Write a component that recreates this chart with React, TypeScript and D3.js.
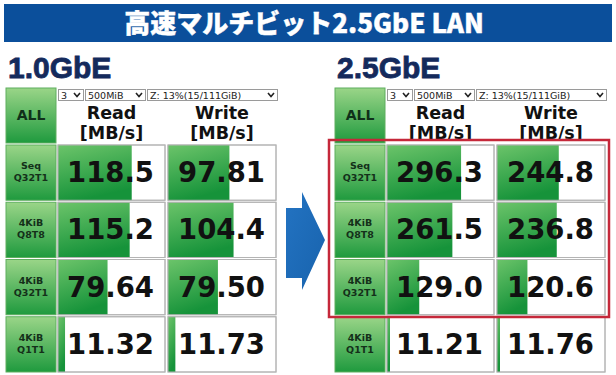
import React from "react";
import * as d3 from "d3";

const tests = ["Seq|Q32T1", "4KiB|Q8T8", "4KiB|Q32T1", "4KiB|Q1T1"];
const read10 = [118.5, 115.2, 79.64, 11.32];
const write10 = [97.81, 104.4, 79.5, 11.73];
const read25 = [296.3, 261.5, 129.0, 11.21];
const write25 = [244.8, 236.8, 120.6, 11.76];
const panelTitles = ["1.0GbE", "2.5GbE"];
const headerLabels = ["Read", "Write"];
const dropdowns = ["3", "500MiB", "Z: 13%(15/111GiB)"];
const meterMax = [172, 428];
const title = "高速マルチビット2.5GbE LAN";

const W = 616;
const H = 375;
const fmt = d3.format(".4r");
const NUM_FONT = "'DejaVu Sans', sans-serif";

export default function App() {
  const panels = [
    { x0: 6, read: read10, write: write10, title: panelTitles[0], max: meterMax[0] },
    { x0: 335, read: read25, write: write25, title: panelTitles[1], max: meterMax[1] },
  ];
  const y = d3.scaleBand<string>().domain(tests).range([145, 372]).paddingInner(0.035);
  const cols = [
    { x: 52, w: 107 },
    { x: 162, w: 108 },
  ];
  const ddBoxes = [
    { x: 52, w: 25 },
    { x: 79, w: 60 },
    { x: 141, w: 130 },
  ];

  return (
    <svg width={W} height={H} style={{ position: "absolute", left: 0, top: 0, background: "#fff" }}>
      <defs>
        <linearGradient id="lab" x1="0" y1="0" x2="0" y2="1">
          <stop offset="0" stopColor="#9ad588" />
          <stop offset="1" stopColor="#1f9a3e" />
        </linearGradient>
        <linearGradient id="bar" x1="0" y1="0" x2="0.3" y2="1">
          <stop offset="0" stopColor="#6cc46a" />
          <stop offset="1" stopColor="#16933a" />
        </linearGradient>
        <linearGradient id="arrow" x1="0" y1="0" x2="1" y2="1">
          <stop offset="0" stopColor="#2373c2" />
          <stop offset="1" stopColor="#1863ad" />
        </linearGradient>
      </defs>
      <rect x={0} y={0} width={W} height={H} fill="#fff" />
      {/* title bar */}
      <rect x={4} y={4} width={608} height={38} fill="#0b4f9b" />
      <text
        x={304}
        y={33}
        textAnchor="middle"
        fill="#fff"
        stroke="#fff"
        strokeWidth={0.4}
        fontSize={26}
        fontWeight={900}
        fontFamily="'Noto Sans CJK JP', sans-serif"
      >
        {title}
      </text>

      {panels.map((p, pi) => {
        const xs = d3.scaleLinear().domain([0, p.max]).range([0, 1]).clamp(true);
        return (
          <g key={pi} transform={`translate(${p.x0},0)`}>
            <text
              x={2}
              y={78}
              fill="#142a5c"
              stroke="#142a5c"
              strokeWidth={0.8}
              fontSize={30}
              fontWeight="bold"
              fontFamily="'Liberation Sans', Arial, sans-serif"
            >
              {p.title}
            </text>
            {/* ALL button */}
            <rect x={0} y={88} width={50} height={55} fill="url(#lab)" stroke="#5fae5f" strokeWidth={1} />
            <text x={25} y={120} textAnchor="middle" fontSize={14} fontWeight="bold" fill="#10301a" fontFamily={NUM_FONT}>
              ALL
            </text>
            {/* dropdowns */}
            {ddBoxes.map((b, i) => (
              <g key={i}>
                <rect x={b.x + 0.5} y={89.5} width={b.w} height={11} fill="#fff" stroke="#9a9a9a" strokeWidth={1} />
                <text x={b.x + 3} y={99} fontSize={9.5} fill="#222" fontFamily="'DejaVu Sans', sans-serif">
                  {dropdowns[i]}
                </text>
                <path
                  d={`M${b.x + b.w - 9},${93} l3,3.5 l3,-3.5`}
                  fill="none"
                  stroke="#222"
                  strokeWidth={1.6}
                />
              </g>
            ))}
            {/* headers */}
            {cols.map((c, i) => (
              <g key={i}>
                <text x={c.x + c.w / 2} y={119} textAnchor="middle" fontSize={17.5} fontWeight="bold" fill="#111" fontFamily={NUM_FONT}>
                  {headerLabels[i]}
                </text>
                <text x={c.x + c.w / 2} y={139} textAnchor="middle" fontSize={17.5} fontWeight="bold" fill="#111" fontFamily={NUM_FONT}>
                  [MB/s]
                </text>
              </g>
            ))}
            {/* rows */}
            {tests.map((t, ri) => {
              const y0 = y(t) as number;
              const h = y.bandwidth();
              const [l1, l2] = t.split("|");
              const vals = [p.read[ri], p.write[ri]];
              return (
                <g key={t}>
                  <rect x={0} y={y0} width={50} height={h} fill="url(#lab)" stroke="#5fae5f" strokeWidth={1} />
                  <text x={25} y={y0 + 24} textAnchor="middle" fontSize={9.5} fontWeight="bold" fill="#14301a" fontFamily={NUM_FONT}>
                    {l1}
                  </text>
                  <text x={25} y={y0 + 36} textAnchor="middle" fontSize={9.5} fontWeight="bold" fill="#14301a" fontFamily={NUM_FONT}>
                    {l2}
                  </text>
                  {cols.map((c, ci) => (
                    <g key={ci}>
                      <rect x={c.x} y={y0} width={c.w} height={h} fill="#fff" stroke="#b4b4b4" strokeWidth={1} />
                      <rect x={c.x} y={y0} width={Math.max(3, xs(vals[ci]) * c.w)} height={h} fill="url(#bar)" />
                      <rect x={c.x} y={y0} width={c.w} height={h} fill="none" stroke="#b4b4b4" strokeWidth={1} />
                      <text
                        x={c.x + c.w - 11}
                        y={y0 + 37}
                        textAnchor="end"
                        fontSize={27.5}
                        fontWeight="bold"
                        fill="#111"
                        fontFamily={NUM_FONT}
                      >
                        {fmt(vals[ci])}
                      </text>
                    </g>
                  ))}
                </g>
              );
            })}
          </g>
        );
      })}

      {/* arrow */}
      <path d="M286,208 L302,208 L302,192 L325,240 L302,290 L302,278 L286,278 Z" fill="url(#arrow)" />

      {/* red highlight */}
      <rect x={329} y={140} width={280} height={177} fill="none" stroke="#c5283a" strokeWidth={2.5} />
    </svg>
  );
}
